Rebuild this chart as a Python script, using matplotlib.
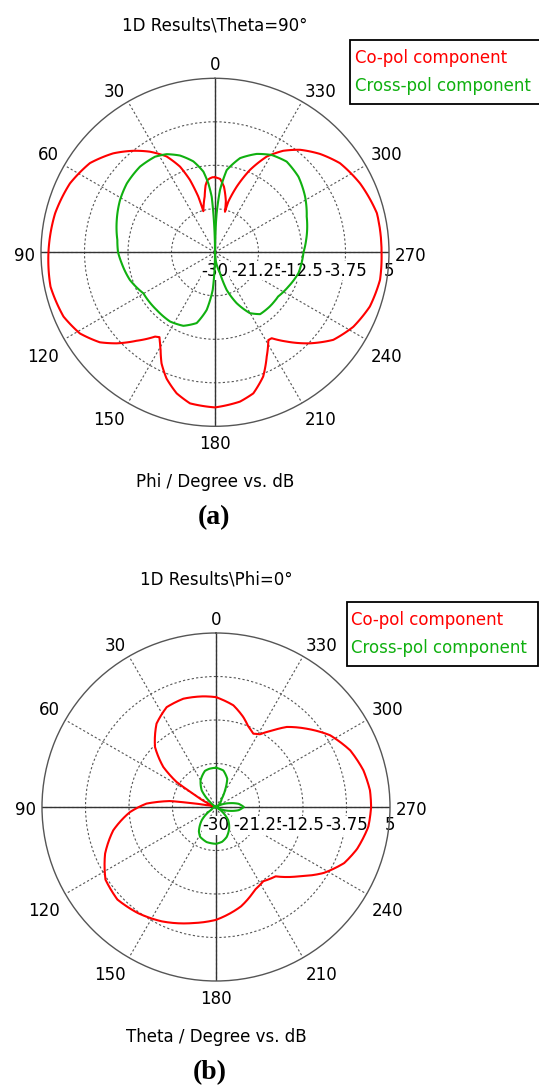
import numpy as np
import matplotlib
matplotlib.use("Agg")
import matplotlib.pyplot as plt
from matplotlib.transforms import ScaledTranslation

plt.rcParams['font.family'] = ['DejaVu Sans']

# (a) cut at Theta=90, angle = Phi (deg), values in dB
phi_a_co = [0, 2, 4, 6, 8, 10.5, 14, 15.8, 16.7, 19.1, 22.2, 26.8, 32.9, 38.8, 45.8,
            54.5, 64.6, 76.3, 90, 101.8, 113, 121, 128, 132.8, 138.4, 144.6, 146.8,
            148.9, 150.9, 154.3, 159, 164.8, 170.6, 180, 189.5, 195.2, 201.2, 206.4,
            211.3, 213.4, 218.7, 226.2, 233.5, 241.7, 250.7, 260.5, 270, 283.6, 295.4,
            305.5, 313.1, 320.3, 326.1, 331.6, 337, 341.7, 345.3, 346.2, 348, 352.2,
            356, 360]
db_a_co = [-14.9, -14.9, -15.1, -15.4, -16.4, -18.6, -20.5, -21.4, -18.3, -14.6, -11.4,
           -8.4, -5.9, -3.8, -1.45, 0.9, 2.3, 3.1, 3.5, 3.8, 3.1, 1.7, -0.6, -3.05, -6.2,
           -9.2, -9.6, -8.6, -7.5, -5.2, -2.8, -0.6, 0.8, 1.2, 0.45, -0.6, -3.2, -6.6,
           -9.35, -9.3, -7.0, -3.55, -0.4, 1.6, 3.0, 3.65, 3.5, 3.5, 2.3, 0.87, -1.05,
           -3.2, -5.4, -8.1, -12.0, -16.1, -19.5, -21.6, -19.5, -16.7, -15.2, -14.9]

phi_a_x = [0, 1, 2.4, 3.4, 5.5, 8.2, 13.4, 19.9, 26.2, 32.1, 41.2, 52, 61.2, 71.8, 82.8,
           90, 96.7, 108, 119.8, 134.7, 147, 156.7, 165.5, 171.8, 176.5, 178.5, 180,
           193.4, 197.2, 203, 209.8, 216.1, 225.4, 235, 245, 256, 270, 277.7, 291.3,
           301.7, 312.2, 321.7, 329.8, 337, 345.1, 351.9, 355.4, 357.6, 360]
db_a_x = [-30, -27, -22.2, -18.8, -16.1, -13.6, -11.2, -9.3, -8.0, -7.3, -7.1, -7.5, -8.2,
          -9.2, -10.2, -10.5, -11.1, -12.0, -13.4, -13.5, -13.4, -13.9, -15.3, -18.3,
          -22.4, -26.5, -30, -25.7, -22.1, -18.9, -15.9, -14.6, -14.5, -14.5, -13.7,
          -12.7, -12.2, -11.5, -10.2, -8.7, -7.35, -6.75, -7.35, -8.5, -10.4, -13.3,
          -17.4, -22.2, -30]

# (b) cut at Phi=0, angle = Theta (deg)
theta_b_co = [0, 6.5, 16.8, 26.3, 35.5, 45.5, 52.8, 57.6, 60, 66, 74, 79, 81.3, 82.6,
              87.2, 93.3, 102.8, 112.8, 123.3, 133.2, 143.6, 154.7, 168.8, 180, 194.2,
              205.2, 212.5, 220.7, 230.3, 238.5, 246.4, 253.4, 262.6, 270, 276.2, 284,
              292.9, 302.2, 310.8, 318.5, 323.2, 328.8, 333, 338, 343.1, 350.3, 357.9, 360]
db_b_co = [-7.9, -7.6, -7.25, -7.6, -9.4, -12.8, -16.7, -20.6, -25, -28.5, -29.5, -28,
           -24.7, -20.7, -16.0, -12.7, -8.8, -5.8, -3.4, -2.8, -3.5, -4.55, -6.2, -7.3,
           -9.4, -11.6, -12.3, -11.6, -8.2, -4.6, -1.85, -0.4, 0.9, 1.2, 1.15, 0.55,
           -0.7, -2.9, -5.9, -8.5, -10.7, -12.9, -13.45, -12.6, -11.1, -9.25, -8.2, -7.9]

theta_b_x = [0, 10, 17, 30, 40.7, 50, 60, 90, 120, 132.9, 145, 152, 165, 180, 190, 199.6,
             212, 222.8, 240, 255, 262, 270, 278, 285, 300, 325, 331.6, 338.2, 348.7, 360]
db_b_x = [-22.1, -22.2, -22.4, -23.8, -25.6, -28.5, -30, -30, -29, -26.1, -24, -23.2,
          -22.7, -22.6, -22.9, -23.6, -25, -26.4, -30, -27, -25.4, -24.4, -25.4, -27,
          -30, -28, -26.2, -23.9, -22.5, -22.1]

angle_ticks = [0, 30, 60, 90, 120, 150, 180, 210, 240, 270, 300, 330]
r_ticks = [-30, -21.25, -12.5, -3.75, 5]
r_tick_labels = ['-30', '-21.25', '-12.5', '-3.75', '5']

RED = '#ff0000'
GREEN = '#10b010'
W, H = 539, 1090

fig = plt.figure(figsize=(W / 100, H / 100), dpi=100)


def off(dx, dy):
    # pixel offset (dpi=100)
    return ScaledTranslation(dx / 100, dy / 100, fig.dpi_scale_trans)


def panel(cx, cy, co_ang, co_db, x_ang, x_db, title, xlabel, tag, tag_x, leg_x0, leg_x1, leg_top):
    R = 174
    ax = fig.add_axes([(cx - R) / W, 1 - (cy + R) / H, 2 * R / W, 2 * R / H], projection='polar')
    ax.set_theta_zero_location('N')
    ax.set_theta_direction(1)
    ax.set_rlim(r_ticks[0], r_ticks[-1])
    ax.set_xticks(np.deg2rad(angle_ticks))
    ax.set_xticklabels([])
    ax.set_yticks(r_ticks[1:-1])
    ax.set_yticklabels([])
    ax.tick_params(length=0)
    ax.grid(True, color='#555555', linestyle=(0, (2, 2)), linewidth=0.8)
    ax.spines['polar'].set_color('#555555')
    ax.spines['polar'].set_linewidth(1.0)
    for a in (0, 90, 180, 270):
        ax.axvline(np.deg2rad(a), color='#333333', lw=1.0, zorder=2)

    l1, = ax.plot(np.deg2rad(co_ang), co_db, color=RED, lw=1.5, zorder=3, label='Co-pol component')
    l2, = ax.plot(np.deg2rad(x_ang), x_db, color=GREEN, lw=1.5, zorder=3, label='Cross-pol component')
    # let the polar transform draw arcs between samples instead of chords
    for ln in (l1, l2):
        ln.get_path()._interpolation_steps = 40

    # angle labels around the circle
    for a in angle_ticks:
        s, c = np.sin(np.deg2rad(a)), np.cos(np.deg2rad(a))
        ha = 'center' if abs(s) < 0.1 else ('right' if s > 0 else 'left')
        if abs(c) < 0.1:
            va, dy = 'center', -3.4
        elif c > 0:
            va, dy = 'bottom', (4 if ha == 'center' else 1)
        else:
            va, dy = 'top', -8.5
        ax.text(np.deg2rad(a), r_ticks[-1], str(a), ha=ha, va=va, fontsize=12,
                transform=ax.transData + off(-6 * s, dy))

    # radial labels under the 270 axis
    for v, lab in zip(r_ticks, r_tick_labels):
        ax.text(np.deg2rad(270), v, lab, ha='center', va='center', fontsize=12, zorder=2.5,
                transform=ax.transData + off(0, -18.4),
                bbox=dict(facecolor='white', edgecolor='none', pad=0.3))

    leg = ax.legend(loc='upper left', bbox_to_anchor=(leg_x0 / W, 1 - leg_top / H, (leg_x1 - leg_x0) / W, 0),
                    bbox_transform=fig.transFigure, mode='expand', borderaxespad=0,
                    handlelength=0, handletextpad=-0.25, labelcolor='linecolor',
                    fancybox=False, framealpha=1, edgecolor='black', fontsize=12,
                    borderpad=0.54, labelspacing=0.58)
    leg.get_frame().set_linewidth(1.3)

    fig.text(cx / W, 1 - (cy - 227) / H, title, ha='center', va='center', fontsize=12)
    fig.text(cx / W, 1 - (cy + 229.5) / H, xlabel, ha='center', va='center', fontsize=12)
    fig.text(tag_x / W, 1 - (cy + 265.5) / H, tag, ha='center', va='center', fontsize=20,
             family='Liberation Serif', weight='bold')
    return ax


panel(215, 252.3, phi_a_co, db_a_co, phi_a_x, db_a_x,
      '1D Results\\Theta=90°', 'Phi / Degree vs. dB', '(a)', 214, 350, 545, 40)
panel(216, 807, theta_b_co, db_b_co, theta_b_x, db_b_x,
      '1D Results\\Phi=0°', 'Theta / Degree vs. dB', '(b)', 210, 346.5, 538, 602.3)

fig.savefig('out.png', dpi=100)
